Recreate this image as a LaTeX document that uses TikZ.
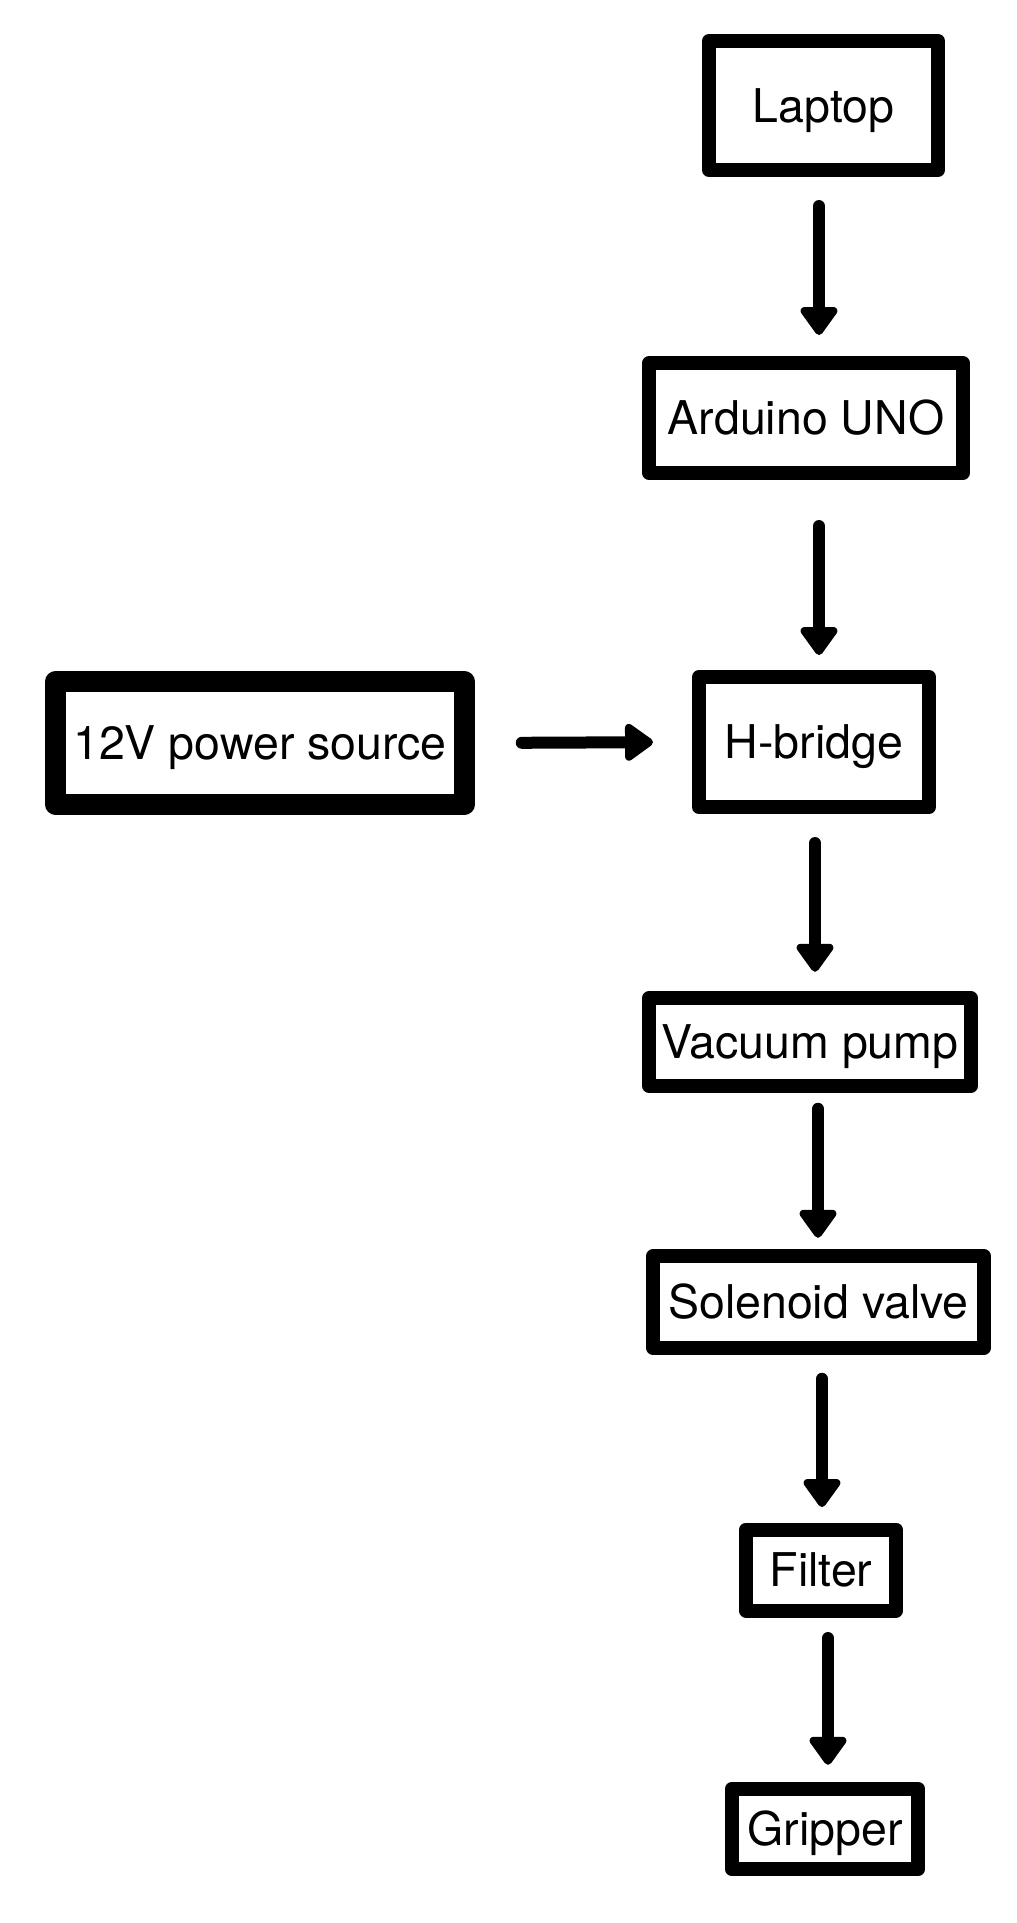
\documentclass[tikz,border=0pt]{standalone}
\usepackage{fontspec}
\setmainfont{TeX Gyre Heros}
\usetikzlibrary{arrows.meta}
\begin{document}
\begin{tikzpicture}[x=1pt,y=-1pt,
    block/.style={draw,line width=14pt,line join=round,inner sep=0pt,
      text height=33pt,text depth=0pt,font=\fontsize{46.5pt}{56pt}\selectfont},
    flow/.style={line width=12pt,line cap=round,-{Triangle[length=31pt,width=42pt,round]}}]
    \useasboundingbox (0,0) rectangle (1017,1923);
    \node[block,minimum width=229pt,minimum height=129pt] (laptop) at (823.5,105.5) {Laptop};
    \node[block,minimum width=313.5pt,minimum height=110pt] (arduino) at (806,418) {Arduino UNO};
    \node[block,line width=21pt,minimum width=408.5pt,minimum height=123pt] (power) at (260,743) {12V power source};
    \node[block,minimum width=230pt,minimum height=130pt] (hbridge) at (814,742) {H-bridge};
    \node[block,minimum width=322pt,minimum height=87.5pt] (pump) at (810,1042) {Vacuum pump};
    \node[block,minimum width=331pt,minimum height=91.5pt] (valve) at (818.5,1302) {Solenoid valve};
    \node[block,minimum width=150pt,minimum height=81pt] (filter) at (821,1570) {Filter};
    \node[block,minimum width=186.5pt,minimum height=80.5pt] (gripper) at (825,1829) {Gripper};
    \draw[flow,shorten <=29pt,shorten >=21pt] ([xshift=-4.5pt]laptop.south) -- ([xshift=13pt]arduino.north);
    \draw[flow,shorten <=46pt,shorten >=15pt] ([xshift=13pt]arduino.south) -- ([xshift=5pt]hbridge.north);
    \draw[flow,shorten <=47pt,shorten >=39pt] (power.east) -- (hbridge.west);
    \draw[flow,shorten <=29pt,shorten >=19.5pt] ([xshift=1pt]hbridge.south) -- ([xshift=5pt]pump.north);
    \draw[flow,shorten <=16pt,shorten >=11.5pt] ([xshift=8pt]pump.south) -- ([xshift=-0.5pt]valve.north);
    \draw[flow,shorten <=24pt,shorten >=15.5pt] ([xshift=3.5pt]valve.south) -- ([xshift=1pt]filter.north);
    \draw[flow,shorten <=20.5pt,shorten >=17pt] ([xshift=7pt]filter.south) -- ([xshift=3pt]gripper.north);
\end{tikzpicture}
\end{document}
